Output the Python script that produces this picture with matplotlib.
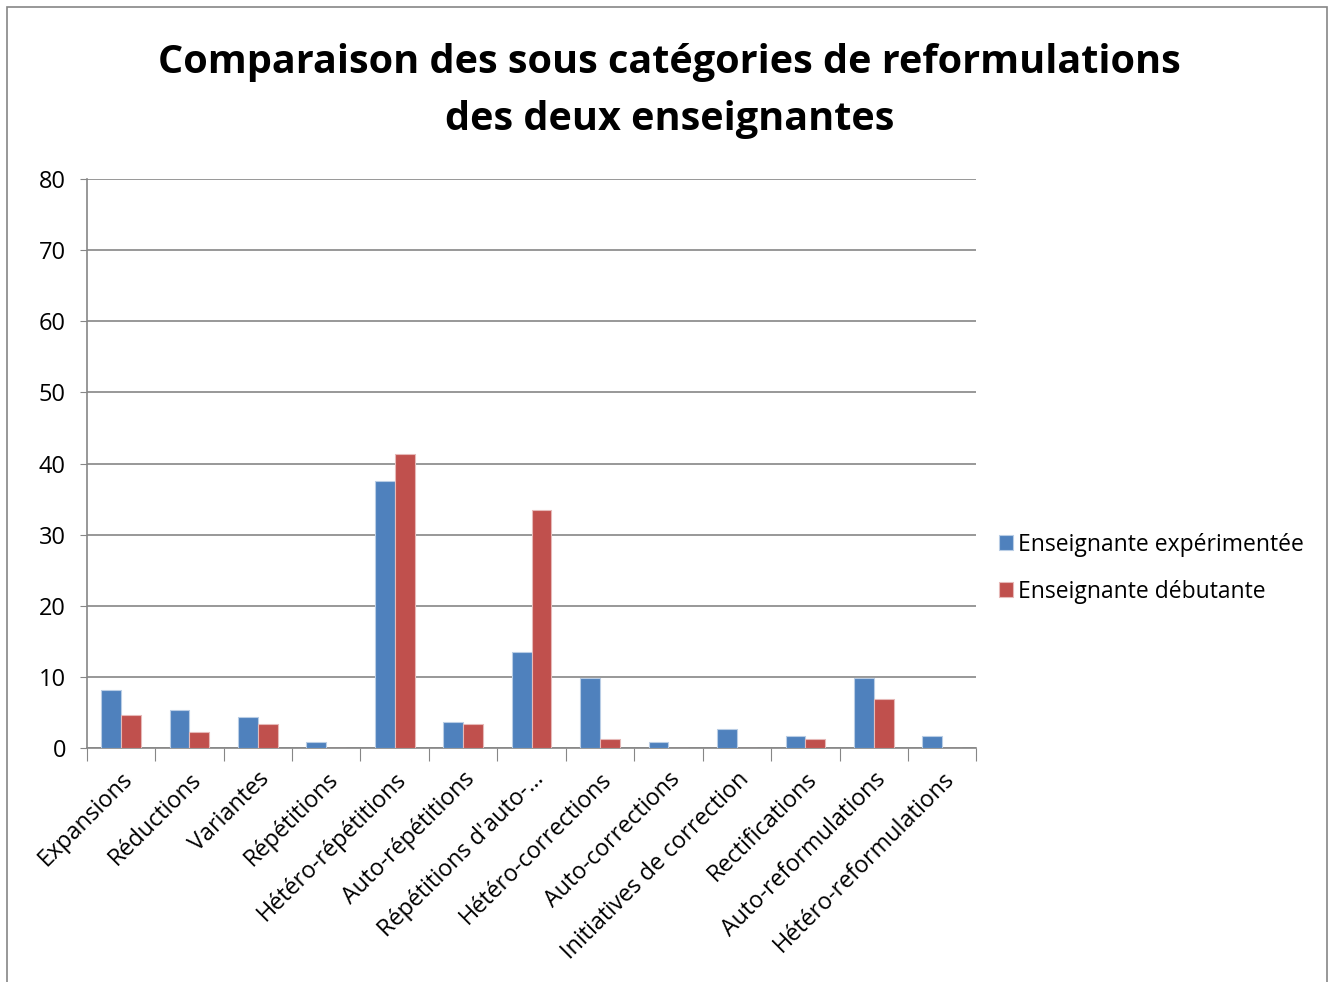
import numpy as np
import matplotlib
matplotlib.use('Agg')
from matplotlib import pyplot as plt
from matplotlib.patches import Rectangle

plt.rcParams['font.family'] = ['Open Sans', 'DejaVu Sans']

categories = ['Expansions', 'Réductions', 'Variantes', 'Répétitions',
              'Hétéro-répétitions', 'Auto-répétitions', "Répétitions d'auto-…",
              'Hétéro-corrections', 'Auto-corrections', 'Initiatives de correction',
              'Rectifications', 'Auto-reformulations', 'Hétéro-reformulations']
experimentee = [8.1, 5.3, 4.4, 0.85, 37.6, 3.6, 13.5, 9.8, 0.85, 2.65, 1.75, 9.8, 1.75]
debutante = [4.6, 2.3, 3.4, 0, 41.4, 3.4, 33.4, 1.2, 0, 0, 1.2, 6.9, 0]

fig = plt.figure(figsize=(13.34, 9.82), dpi=100)
ax = fig.add_axes([0.065, 0.2383, 0.667, 0.5794])

x = np.arange(len(categories))
w = 0.29
ax.bar(x - w / 2, experimentee, w, color='#4F81BD', edgecolor='#B9CDE5', linewidth=0.8,
       label='Enseignante expérimentée', zorder=3)
ax.bar(x + w / 2, debutante, w, color='#C0504D', edgecolor='#E6B9B8', linewidth=0.8,
       label='Enseignante débutante', zorder=3)

ax.set_xlim(-0.5, len(categories) - 0.5)
ax.set_ylim(0, 80)
ax.set_yticks(range(0, 81, 10))
ax.yaxis.grid(True, color='#868686', linewidth=1.2, zorder=0)
ax.tick_params(axis='y', labelsize=17, length=5, color='#868686', pad=10)

ax.set_xticks(np.arange(-0.5, len(categories)), minor=False)
ax.set_xticklabels([])
ax.set_xticks(x, minor=True)
ax.set_xticklabels(categories, minor=True, rotation=45, ha='right', va='top',
                   rotation_mode='anchor', fontsize=16.8)
ax.tick_params(axis='x', which='major', length=9, color='#868686')
ax.tick_params(axis='x', which='minor', length=0, pad=14)

for s in ['top', 'right']:
    ax.spines[s].set_visible(False)
for s in ['left', 'bottom']:
    ax.spines[s].set_color('#868686')
    ax.spines[s].set_linewidth(1.2)

fig.suptitle('Comparaison des sous catégories de reformulations\ndes deux enseignantes',
             x=0.502, y=0.956, fontsize=28.5, fontweight='bold', linespacing=1.58)

ax.legend(loc='center left', bbox_to_anchor=(1.015, 0.316), frameon=False, fontsize=16.5,
          handlelength=0.6, handleheight=0.6, handletextpad=0.25, labelspacing=1.0,
          borderaxespad=0)

fig.patches.append(Rectangle((0.005, -0.01), 0.99, 1.003, transform=fig.transFigure,
                             fill=False, edgecolor='#868686', linewidth=1.2))

fig.savefig('out.png', dpi=100)
